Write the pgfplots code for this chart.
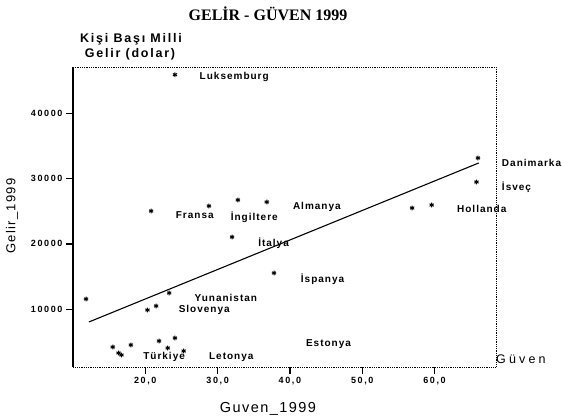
\documentclass[border=0pt]{standalone}
\usepackage{pgfplots}
\pgfplotsset{compat=1.18}
\usepackage{fontspec}
\setmainfont{Liberation Sans}
\newfontfamily\titlefont{Liberation Serif}
\newfontfamily\lblfont{Liberation Sans}[LetterSpace=10]
\newfontfamily\tickfont{Liberation Sans}[LetterSpace=18]
\newfontfamily\axfont{Liberation Sans}[LetterSpace=10]
\newfontfamily\headfont{Liberation Sans}[LetterSpace=14]
\newfontfamily\guvfont{Liberation Sans}[LetterSpace=25]
\begin{document}
\begin{tikzpicture}
\useasboundingbox (-73pt,-52pt) rectangle (490pt,367pt);
\begin{axis}[
  scale only axis, width=423pt, height=300pt,
  xmin=10, xmax=68.5, ymin=1150, ymax=47080,
  axis line style={draw=none},
  scaled y ticks=false, scaled x ticks=false,
  xtick={20,30,40,50,60}, xticklabels={{20,0},{30,0},{40,0},{50,0},{60,0}},
  ytick={10000,20000,30000,40000}, yticklabels={10000,20000,30000,40000},
  xtick pos=left, ytick pos=left, tick align=outside,
  major tick length=7pt,
  every tick/.style={black, line width=1.3pt},
  tick label style={font=\tickfont\bfseries\fontsize{9}{10}\selectfont},
  clip=false,
]
\draw[densely dotted, line width=0.8pt] (rel axis cs:0,1) -- (rel axis cs:1,1) -- (rel axis cs:1,0) -- (rel axis cs:0,0);
\draw[line width=1.2pt] (rel axis cs:0,0) -- (rel axis cs:0,1);
\addplot[black, line width=1.1pt] coordinates {(12.2,8040) (66.1,32380)};
\addplot[only marks, mark=asterisk, mark size=2.4pt, mark options={line width=1pt}, black] coordinates {
(24.1,45900) (11.8,11560) (20.8,25030) (28.8,25800) (32.8,26720) (36.8,26410)
(32.0,21050) (37.8,15540) (56.9,25490) (59.6,25950) (66.0,33150) (65.8,29470)
(23.3,12480) (20.3,9870) (21.5,10490)
(15.5,4210) (16.3,3290) (16.7,2990) (18.0,4520) (21.9,5130) (23.1,4060) (24.1,5590) (25.3,3600)
};
\tikzset{lbl/.style={anchor=west, inner sep=0pt, font=\lblfont\bfseries\fontsize{10}{11}\selectfont}}
\node[lbl] at (axis cs:27.5,45550) {Luksemburg};
\node[lbl] at (axis cs:69.3,32380) {Danimarka};
\node[lbl] at (axis cs:69.3,28710) {İsveç};
\node[lbl] at (axis cs:63.1,25340) {Hollanda};
\node[lbl] at (axis cs:40.4,25650) {Almanya};
\node[lbl] at (axis cs:31.8,24110) {İngiltere};
\node[lbl] at (axis cs:24.2,24420) {Fransa};
\node[lbl] at (axis cs:35.6,20130) {İtalya};
\node[lbl] at (axis cs:41.5,14620) {İspanya};
\node[lbl] at (axis cs:26.8,11710) {Yunanistan};
\node[lbl] at (axis cs:24.6,9870) {Slovenya};
\node[lbl] at (axis cs:42.2,4670) {Estonya};
\node[lbl] at (axis cs:19.7,2680) {Türkiye};
\node[lbl] at (axis cs:28.8,2680) {Letonya};
\end{axis}
\node[font=\titlefont\bfseries\fontsize{16}{18}\selectfont] at (195pt,353pt) {GELİR - GÜVEN 1999};
\node[font=\headfont\bfseries\fontsize{12.5}{14}\selectfont] at (58pt,328pt) {Kişi Başı Milli};
\node[font=\headfont\bfseries\fontsize{12.5}{14}\selectfont] at (57pt,313pt) {Gelir (dolar)};
\node[font=\axfont\fontsize{13}{15}\selectfont, rotate=90] at (-61pt,151pt) {Gelir\_1999};
\node[font=\axfont\fontsize{14.5}{16}\selectfont] at (195pt,-42pt) {Guven\_1999};
\node[anchor=west, inner sep=0pt, font=\guvfont\fontsize{12.5}{14}\selectfont] at (423pt,8pt) {Güven};
\end{tikzpicture}
\end{document}
